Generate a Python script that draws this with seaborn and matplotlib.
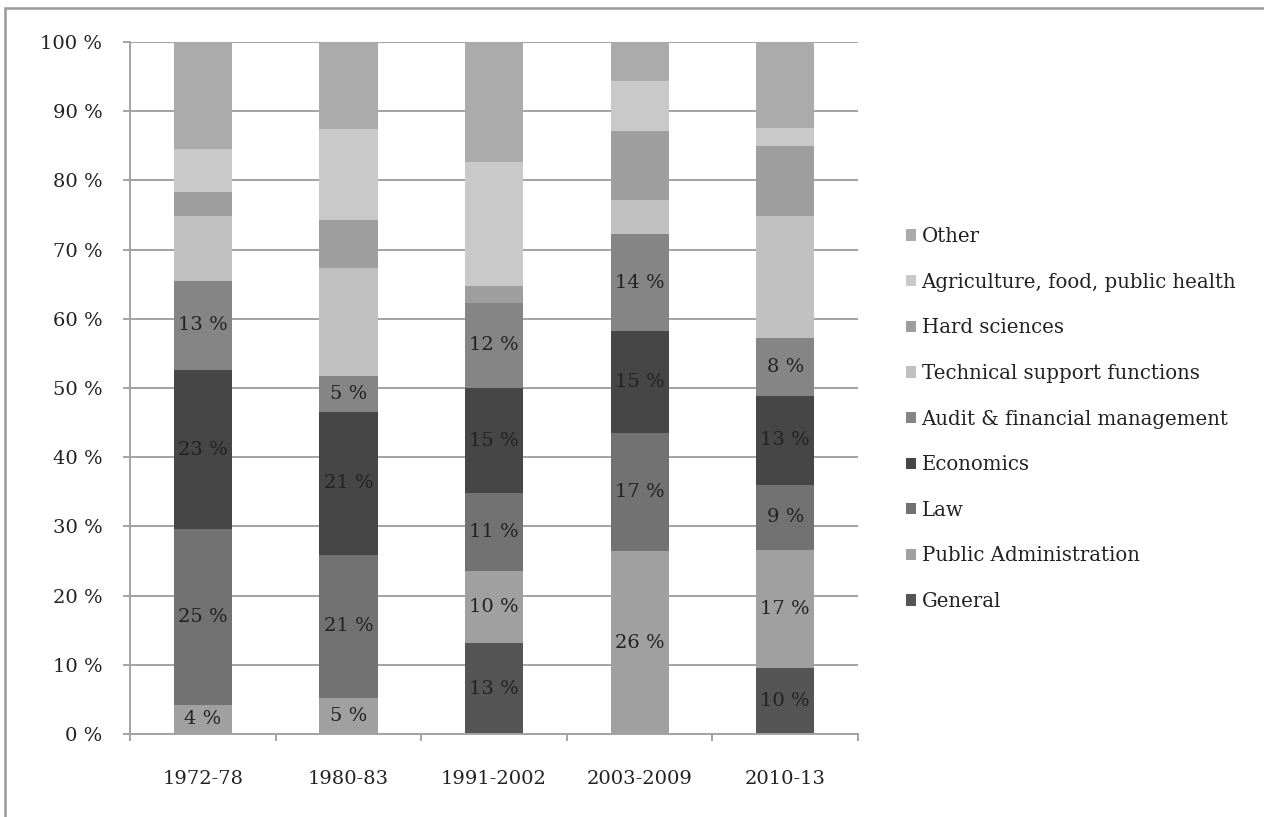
import matplotlib
matplotlib.use("Agg")
import matplotlib.pyplot as plt
import seaborn as sns
import numpy as np
from matplotlib.patches import Patch, Rectangle

# Periods (x categories)
periods = ["1972-78", "1980-83", "1991-2002", "2003-2009", "2010-13"]

# Share of each field of study, per period (%), stacked bottom to top
general        = [0.0, 0.0, 13.1, 0.0, 9.6]
public_admin   = [4.2, 5.2, 10.4, 26.4, 17.0]
law            = [25.4, 20.7, 11.3, 17.1, 9.4]
economics      = [23.0, 20.7, 15.2, 14.7, 12.9]
audit_finance  = [12.9, 5.2, 12.3, 14.0, 8.3]
technical      = [9.4, 15.6, 0.0, 4.9, 17.6]
hard_sciences  = [3.4, 6.9, 2.4, 10.1, 10.2]
agriculture    = [6.3, 13.1, 17.9, 7.2, 2.5]
other          = [15.4, 12.6, 17.4, 5.6, 12.5]

series_names = ["General", "Public Administration", "Law", "Economics",
                "Audit & financial management", "Technical support functions",
                "Hard sciences", "Agriculture, food, public health", "Other"]
series_values = [general, public_admin, law, economics, audit_finance,
                 technical, hard_sciences, agriculture, other]
series_colors = ["#555555", "#a0a0a0", "#727272", "#464646", "#858585",
                 "#c1c1c1", "#9e9e9e", "#c9c9c9", "#ababab"]
labelled = {"General", "Public Administration", "Law", "Economics",
            "Audit & financial management"}

sns.set_theme(style="white")
plt.rcParams["font.family"] = ["DejaVu Serif"]
text_color = "#222222"
grid_color = "#a3a3a3"
fs = 14

fig = plt.figure(figsize=(12.64, 8.17), dpi=100)
ax = fig.add_axes([0.1029, 0.1016, 0.5759, 0.8470])

vals = np.array(series_values)
tops = np.cumsum(vals, axis=0)

# Draw cumulative totals from the top down so each layer covers the one above it
for i in range(len(series_names) - 1, -1, -1):
    sns.barplot(x=periods, y=tops[i], color=series_colors[i], width=0.4,
                saturation=1, linewidth=0, ax=ax, zorder=2)

# Segment value labels
for i, name in enumerate(series_names):
    if name not in labelled:
        continue
    for j in range(len(periods)):
        v = vals[i, j]
        if v <= 0:
            continue
        mid = tops[i, j] - v / 2
        ax.text(j, mid, f"{round(v)} %", ha="center", va="center",
                fontsize=fs, color=text_color, zorder=4)

ax.set_ylim(0, 100)
ax.set_xlim(-0.5, len(periods) - 0.5)
ax.set_yticks(np.arange(0, 101, 10))
ax.set_yticklabels([f"{t} %" for t in range(0, 101, 10)])
ax.set_xlabel("")
ax.set_ylabel("")

ax.yaxis.grid(True, color=grid_color, linewidth=1.4, zorder=0)
ax.set_axisbelow(True)
for s in ["top", "right"]:
    ax.spines[s].set_visible(False)
for s in ["left", "bottom"]:
    ax.spines[s].set_color(grid_color)
    ax.spines[s].set_linewidth(1.4)

ax.tick_params(axis="y", which="major", length=5, width=1.4, color=grid_color,
               labelsize=fs, labelcolor=text_color, pad=15, left=True)
ax.tick_params(axis="x", which="major", length=0, labelsize=fs,
               labelcolor=text_color, pad=26)
ax.set_xticks(np.arange(-0.5, len(periods), 1.0), minor=True)
ax.tick_params(axis="x", which="minor", length=5, width=1.4, color=grid_color,
               bottom=True)

handles = [Patch(facecolor=series_colors[i], edgecolor="none", label=series_names[i])
           for i in range(len(series_names) - 1, -1, -1)]
leg = fig.legend(handles=handles, loc="center left", bbox_to_anchor=(0.7104, 0.487),
                 frameon=False, fontsize=14.2, handlelength=0.5, handleheight=0.5,
                 handletextpad=0.3, labelspacing=1.35, borderaxespad=0)
for t in leg.get_texts():
    t.set_color(text_color)

# Outer frame of the chart area
fig.patches.append(Rectangle((5 / 1264, -0.05), 1.2, 1 - 8 / 817 + 0.05,
                             transform=fig.transFigure, fill=False,
                             edgecolor="#9a9a9a", linewidth=1.8, zorder=0))

fig.savefig("out.png", dpi=100)
